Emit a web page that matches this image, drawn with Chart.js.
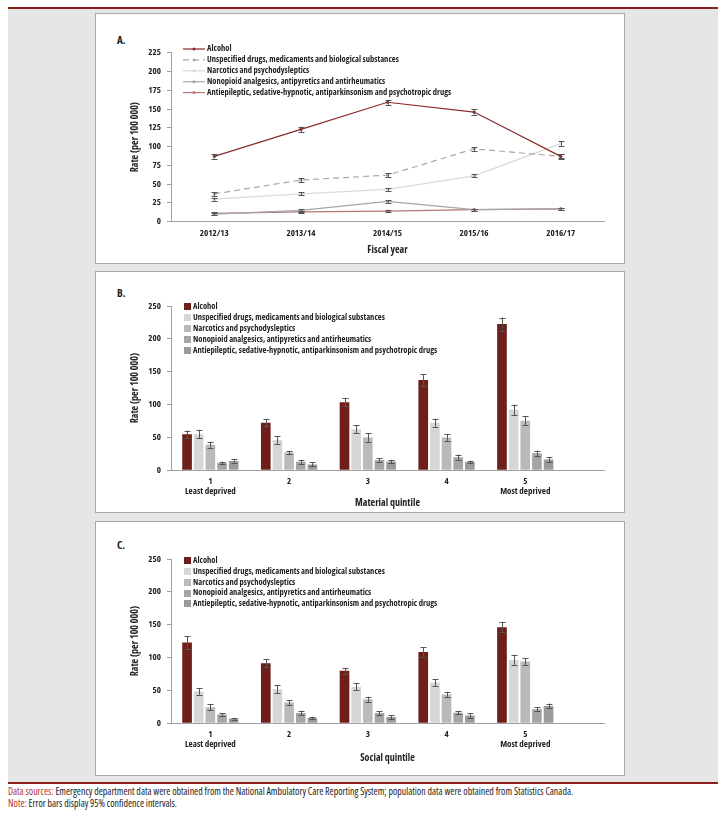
<!DOCTYPE html>
<html><head>
<meta charset="UTF-8">
<title>Emergency department visit rates by substance</title>
<style>
  :root { --font: 'Open Sans', 'DejaVu Sans Condensed', sans-serif; }
  body { margin:0; width:728px; height:819px; position:relative; background:#fff; overflow:hidden; font-family:var(--font); font-stretch:condensed; }
  .rule { position:absolute; left:8px; width:710px; height:2px; background:#8b1f1a; }
  #bg { position:absolute; left:8px; top:9px; width:710px; height:773px; background:#e6e6e6; }
  .panel { position:absolute; left:95px; width:528px; background:#fff; border:1px solid #a8a8a8; }
  .panel canvas { position:absolute; left:0; top:0; }
  .tag { position:absolute; left:21px; font-weight:bold; font-size:11px; line-height:12px; color:#222; }
  .foot { position:absolute; left:8px; font-size:9.9px; line-height:11px; color:#222; white-space:nowrap; }
  .foot span { color:#b3342b; }
</style>
<script src="https://cdn.jsdelivr.net/npm/chart.js"></script>
</head>
<body>
  <div class="rule" style="top:7px"></div>
  <div id="bg"></div>

  <div class="panel" style="top:13px;height:249px">
    <div class="tag" style="top:20px">A.</div>
    <canvas id="chartA" width="528" height="249"></canvas>
  </div>
  <div class="panel" style="top:271px;height:240px">
    <div class="tag" style="top:15px">B.</div>
    <canvas id="chartB" width="528" height="240"></canvas>
  </div>
  <div class="panel" style="top:521px;height:253px">
    <div class="tag" style="top:17px">C.</div>
    <canvas id="chartC" width="528" height="253"></canvas>
  </div>

  <div class="rule" style="top:782px"></div>
  <div class="foot" style="top:786px"><span>Data sources:</span> Emergency department data were obtained from the National Ambulatory Care Reporting System; population data were obtained from Statistics Canada.</div>
  <div class="foot" style="top:798px"><span>Note:</span> Error bars display 95% confidence intervals.</div>

<script>
  const FONT = getComputedStyle(document.documentElement).getPropertyValue('--font').trim();
  const BOLD = 'bold condensed';   // weight + stretch, goes into the canvas font string

  const seriesNames = [
    'Alcohol',
    'Unspecified drugs, medicaments and biological substances',
    'Narcotics and psychodysleptics',
    'Nonopioid analgesics, antipyretics and antirheumatics',
    'Antiepileptic, sedative-hypnotic, antiparkinsonism and psychotropic drugs'
  ];

  // A. rates by fiscal year
  const fiscalYears = ['2012/13', '2013/14', '2014/15', '2015/16', '2016/17'];
  const alcoholA   = [87, 123, 159, 146, 87];
  const unspecA    = [37, 55.5, 62, 97, 87];
  const narcoticsA = [30, 37, 43, 61, 104];
  const nonopioidA = [10, 15, 27, 16, 17];
  const antiepA    = [11, 13, 14, 16, 17];
  const alcoholAErr   = [3, 3.5, 3.5, 3.5, 3];
  const unspecAErr    = [2.5, 2.5, 2.5, 2.5, 2.5];
  const narcoticsAErr = [2, 2, 2, 2, 3];
  const nonopioidAErr = [1.5, 1.5, 1.5, 1.5, 1.5];
  const antiepAErr    = [1.5, 1.5, 1.5, 1.5, 1.5];

  // B. material deprivation quintile
  const quintiles = [['1', 'Least deprived'], '2', '3', '4', ['5', 'Most deprived']];
  const alcoholB   = [55, 72.5, 103.5, 137.5, 222.5];
  const unspecB    = [55, 46, 62.5, 72.5, 92];
  const narcoticsB = [39, 27, 50, 50, 75.5];
  const nonopioidB = [11, 13, 15.5, 20, 26];
  const antiepB    = [14, 9, 13.5, 12.5, 16.5];
  const alcoholBErr   = [5.5, 5, 6, 8.5, 10];
  const unspecBErr    = [6.5, 5.5, 6.5, 6, 8];
  const narcoticsBErr = [4.5, 2.5, 6.5, 5.5, 7];
  const nonopioidBErr = [2, 3, 2.5, 4, 4];
  const antiepBErr    = [2.5, 3, 2.5, 2, 4];

  // C. social deprivation quintile
  const alcoholC   = [123, 91.5, 80, 108.5, 146];
  const unspecC    = [48.5, 52, 55.5, 62, 96.5];
  const narcoticsC = [24.5, 31.5, 36.5, 44, 94];
  const nonopioidC = [13.5, 15.5, 15.5, 16, 21.5];
  const antiepC    = [7, 8, 9.5, 12, 26.5];
  const alcoholCErr   = [9.5, 6, 4.5, 7, 7.5];
  const unspecCErr    = [5, 6.5, 5.5, 5.5, 7.5];
  const narcoticsCErr = [5, 4, 4, 4, 5];
  const nonopioidCErr = [2, 3.5, 3, 2.5, 3];
  const antiepCErr    = [1.5, 2, 3, 3.5, 3.5];

  const lineColors = ['#8c2b2b', '#a8a8a8', '#d9d9d9', '#a6a6a6', '#b57878'];
  const barColors  = ['#6e1f1a', '#d6d6d6', '#bababa', '#a5a5a5', '#9b9b9b'];

  Chart.defaults.font.family = FONT;
  Chart.defaults.color = '#222';

  // draws the 95% CI whiskers from each dataset's errors array
  const errorBars = {
    id: 'errorBars',
    afterDatasetsDraw(chart) {
      const ctx = chart.ctx;
      const yScale = chart.scales.y;
      ctx.save();
      ctx.strokeStyle = '#555';
      ctx.lineWidth = 1;
      chart.data.datasets.forEach((ds, i) => {
        const meta = chart.getDatasetMeta(i);
        meta.data.forEach((el, j) => {
          const v = ds.data[j], e = ds.errors[j];
          const top = yScale.getPixelForValue(v + e);
          const bot = yScale.getPixelForValue(v - e);
          const x = Math.round(el.x) + 0.5;
          ctx.beginPath();
          ctx.moveTo(x, top); ctx.lineTo(x, bot);
          ctx.moveTo(x - 3, Math.round(top) + 0.5); ctx.lineTo(x + 3, Math.round(top) + 0.5);
          ctx.moveTo(x - 3, Math.round(bot) + 0.5); ctx.lineTo(x + 3, Math.round(bot) + 0.5);
          ctx.stroke();
        });
      });
      ctx.restore();
    }
  };

  // legend drawn inside the plot, top left
  const insideLegend = {
    id: 'insideLegend',
    afterDraw(chart, args, opts) {
      const {ctx, chartArea} = chart;
      const x0 = chartArea.left + opts.dx;
      let y = chartArea.top + opts.dy;
      ctx.save();
      ctx.font = BOLD + ' ' + opts.fontSize + 'px ' + FONT;
      ctx.textBaseline = 'middle';
      chart.data.datasets.forEach(ds => {
        let tx;
        if (opts.kind === 'line') {
          ctx.strokeStyle = ds.borderColor;
          ctx.lineWidth = ds.borderWidth;
          ctx.setLineDash(ds.borderDash || []);
          ctx.beginPath(); ctx.moveTo(x0, y); ctx.lineTo(x0 + 22, y); ctx.stroke();
          ctx.setLineDash([]);
          ctx.fillStyle = ds.pointBackgroundColor;
          ctx.beginPath(); ctx.arc(x0 + 11, y, 1.5, 0, Math.PI * 2); ctx.fill();
          tx = x0 + 24;
        } else {
          ctx.fillStyle = ds.backgroundColor;
          ctx.fillRect(x0, Math.round(y - 3.5), 7, 7);
          tx = x0 + 9;
        }
        ctx.fillStyle = '#222';
        ctx.fillText(ds.label, tx, y);
        y += opts.rowHeight;
      });
      ctx.restore();
    }
  };

  const tickFont = { size: 9, weight: BOLD, lineHeight: 1.15 };
  const titleFont = { size: 10, weight: BOLD };

  function yAxis(max, step) {
    return {
      min: 0, max: max,
      ticks: { stepSize: step, padding: 6, font: tickFont },
      grid: { display: true, drawOnChartArea: false, drawTicks: true, tickLength: 4, color: '#a0a0a0' },
      border: { display: true, color: '#a0a0a0' },
      title: { display: true, text: 'Rate (per 100 000)', font: titleFont, padding: { top: 33, bottom: 0 } },
      afterFit: s => { s.width = 75; }
    };
  }

  function xAxis(title, height, tickPad, titlePad, extraSlot) {
    return {
      offset: true,
      grid: { display: false, drawTicks: false },
      border: { display: true, color: '#a0a0a0' },
      ticks: { padding: tickPad, font: tickFont, maxRotation: 0, autoSkip: false },
      title: { display: true, text: title, font: titleFont, padding: { top: 0, bottom: titlePad } },
      afterFit: s => { s.height = height; },
      // the bar panels leave an empty half slot at the right end of the axis
      afterBuildTicks: s => { if (extraSlot) s._valueRange += 0.5; }
    };
  }

  function lineSet(label, data, errors, color, dash) {
    return {
      label, data, errors,
      borderColor: color, backgroundColor: color,
      borderWidth: 1.2, borderDash: dash || [],
      pointRadius: 1.6, pointBackgroundColor: color, pointBorderWidth: 0,
      tension: 0
    };
  }

  function barSet(label, data, errors, color) {
    return { label, data, errors, backgroundColor: color, borderWidth: 0 };
  }

  new Chart(document.getElementById('chartA'), {
    type: 'line',
    data: {
      labels: fiscalYears,
      datasets: [
        lineSet(seriesNames[0], alcoholA, alcoholAErr, lineColors[0]),
        lineSet(seriesNames[1], unspecA, unspecAErr, lineColors[1], [6, 4]),
        lineSet(seriesNames[2], narcoticsA, narcoticsAErr, lineColors[2]),
        lineSet(seriesNames[3], nonopioidA, nonopioidAErr, lineColors[3]),
        lineSet(seriesNames[4], antiepA, antiepAErr, lineColors[4])
      ]
    },
    options: {
      responsive: false, animation: false,
      layout: { padding: { left: 0, right: 20, top: 38.7, bottom: 0 } },
      scales: { x: xAxis('Fiscal year', 41.3, 7, 7, false), y: yAxis(225, 25) },
      plugins: {
        legend: { display: false }, tooltip: { enabled: false },
        insideLegend: { kind: 'line', dx: 12, dy: -3.7, rowHeight: 10.9, fontSize: 8.5 }
      }
    },
    plugins: [errorBars, insideLegend]
  });

  function barChart(id, labels, sets, xTitle, top, xHeight, tickPad, titlePad, legendDy) {
    new Chart(document.getElementById(id), {
      type: 'bar',
      data: {
        labels: labels,
        datasets: sets.map((s, i) => barSet(seriesNames[i], s[0], s[1], barColors[i]))
      },
      options: {
        responsive: false, animation: false,
        categoryPercentage: 0.74, barPercentage: 0.83,
        layout: { padding: { left: 0, right: 20, top: top, bottom: 0 } },
        scales: { x: xAxis(xTitle, xHeight, tickPad, titlePad, true), y: yAxis(250, 50) },
        plugins: {
          legend: { display: false }, tooltip: { enabled: false },
          insideLegend: { kind: 'box', dx: 13, dy: legendDy, rowHeight: 10.9, fontSize: 8.5 }
        }
      },
      plugins: [errorBars, insideLegend]
    });
  }

  barChart('chartB', quintiles, [
    [alcoholB, alcoholBErr], [unspecB, unspecBErr], [narcoticsB, narcoticsBErr],
    [nonopioidB, nonopioidBErr], [antiepB, antiepBErr]
  ], 'Material quintile', 34, 41.7, 6, 3, 0.7);

  barChart('chartC', quintiles, [
    [alcoholC, alcoholCErr], [unspecC, unspecCErr], [narcoticsC, narcoticsCErr],
    [nonopioidC, nonopioidCErr], [antiepC, antiepCErr]
  ], 'Social quintile', 37, 51.7, 6, 11, 1.3);
</script>
</body></html>
